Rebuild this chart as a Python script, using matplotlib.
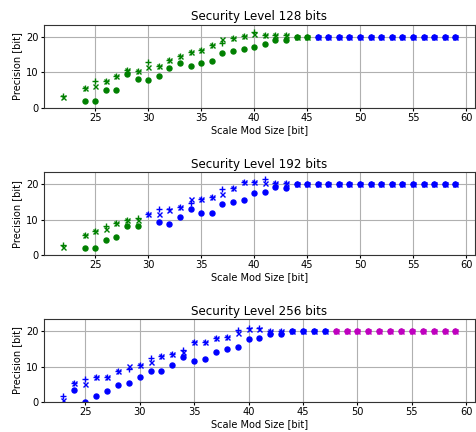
import numpy as np
import matplotlib
matplotlib.use('Agg')
import matplotlib.pyplot as plt

nan = np.nan
flat = [20.0] * 16  # 44..59

# Security level 128 bits
x128 = [22] + list(range(24, 60))
dot128 = [nan, 2.0, 2.0, 5.0, 5.0, 9.6, 8.2, 7.9, 9.1, 11.3, 12.5, 11.9, 12.5,
          13.1, 15.5, 16.0, 16.6, 17.1, 18.0, 19.1, 19.1] + flat
cross128 = [3.1, 5.6, 6.2, 7.5, 9.1, 10.6, 10.3, 11.5, 11.9, 13.4, 14.7, 15.6,
            16.4, 17.6, 19.3, 19.6, 20.2, 20.9, 20.5, 20.4, 20.4] + flat
plus128 = [3.4, 5.6, 7.5, 7.5, 9.1, 10.6, 10.3, 12.9, 11.9, 13.4, 14.7, 15.6,
           16.4, 17.6, 18.3, 19.6, 20.2, 21.3, 20.5, 20.4, 20.4] + flat
split128 = 46  # blue from here

# Security level 192 bits
x192 = [22] + list(range(24, 60))
dot192 = [nan, 2.0, 2.0, 4.3, 5.0, 8.2, 8.1, nan, 9.3, 8.7, 10.7, 13.0, 11.8,
          12.0, 14.4, 15.0, 15.4, 17.5, 17.9, 19.1, 18.9] + flat
cross192 = [2.3, 5.6, 6.7, 7.5, 9.2, 9.8, 10.0, 11.5, 11.5, 12.6, 13.5, 15.8,
            15.9, 16.3, 17.1, 18.9, 20.6, 20.5, 20.2, 20.3, 20.2] + flat
plus192 = [2.9, 5.6, 6.9, 8.3, 9.2, 9.8, 10.5, 11.6, 13.0, 12.9, 13.5, 14.6,
           15.9, 16.3, 18.6, 18.9, 20.6, 20.5, 21.5, 20.3, 20.2] + flat
split192 = 30

# Security level 256 bits
x256 = list(range(23, 60))
dot256 = [nan, 3.4, 0.0, 1.7, 3.2, 4.8, 5.3, 7.0, 8.7, 8.7, 10.3, 12.6, 11.5,
          12.0, 14.2, 15.0, 15.6, 17.6, 17.9, 19.0, 19.1] + flat
cross256 = [0.5, 5.3, 5.2, 7.2, 7.0, 8.7, 10.2, 10.3, 11.3, 12.9, 13.5, 14.1,
            16.9, 16.9, 18.0, 18.4, 19.3, 20.6, 20.5, 20.1, 20.1] + flat
plus256 = [1.8, 5.3, 6.5, 7.2, 7.0, 8.7, 9.3, 10.3, 12.4, 12.9, 13.5, 14.7,
           16.9, 16.9, 18.0, 18.4, 20.3, 20.8, 20.8, 20.1, 20.1] + flat
split256 = 48

panels = [
    ('Security Level 128 bits', x128, dot128, cross128, plus128, split128, 'g', 'b'),
    ('Security Level 192 bits', x192, dot192, cross192, plus192, split192, 'g', 'b'),
    ('Security Level 256 bits', x256, dot256, cross256, plus256, split256, 'b', 'm'),
]

fig = plt.figure(figsize=(4.76, 4.32), dpi=100)
bottoms = [0.75, 0.409, 0.069]
for (title, xs, d, c, p, split, c1, c2), b in zip(panels, bottoms):
    ax = fig.add_axes([0.092, b, 0.906, 0.193])
    xs = np.array(xs)
    lo = xs < split
    for mask, col in ((lo, c1), (~lo, c2)):
        ax.plot(xs[mask], np.array(d)[mask], 'o', color=col, ms=3.6)
        ax.plot(xs[mask], np.array(c)[mask], 'x', color=col, ms=3.6, mew=1.0)
        ax.plot(xs[mask], np.array(p)[mask], '+', color=col, ms=4.0, mew=1.0)
    ax.set_ylim(0, 23.4)
    ax.set_yticks([0, 10, 20])
    ax.set_xticks([25, 30, 35, 40, 45, 50, 55, 60])
    ax.grid(True)
    ax.set_title(title, fontsize=8.6, pad=3)
    ax.set_xlabel('Scale Mod Size [bit]', fontsize=7.1, labelpad=1.5)
    ax.set_ylabel('Precision [bit]', fontsize=7.1, labelpad=3)
    ax.tick_params(labelsize=7.1, length=2, pad=1.6)
    for s in ax.spines.values():
        s.set_color('#333333')

fig.savefig('out.png', dpi=100)
